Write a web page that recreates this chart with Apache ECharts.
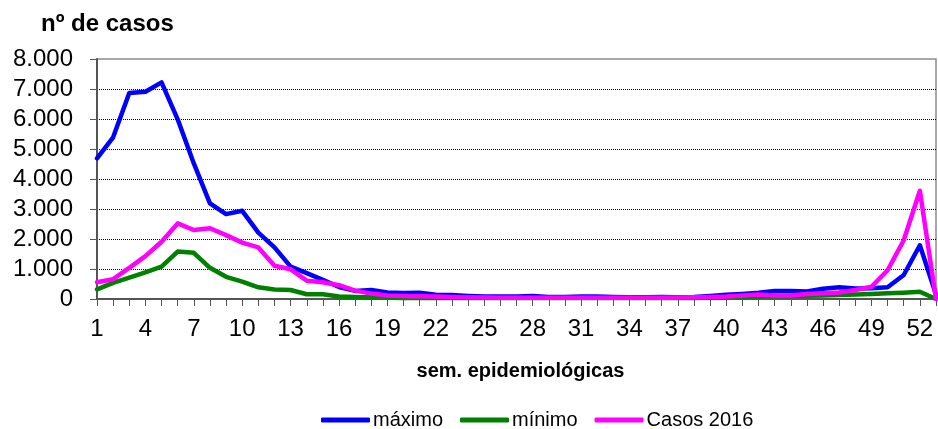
<!DOCTYPE html>
<html>
<head>
<meta charset="utf-8">
<script src="https://cdn.jsdelivr.net/npm/echarts@6/dist/echarts.min.js"></script>
<style>
html,body{margin:0;padding:0;background:#fff;}
#chart{width:938px;height:429px;}
</style>
</head>
<body>
<div id="chart"></div>
<script>
var weeks = [];
for (var w = 1; w <= 53; w++) weeks.push(String(w));

var yTicks = [0, 1000, 2000, 3000, 4000, 5000, 6000, 7000, 8000];

var maximo = [4690, 5390, 6870, 6910, 7220, 5990, 4520, 3190, 2830, 2940,
  2210, 1720, 1080, 860, 640, 400, 270, 300, 220, 200,
  210, 140, 130, 100, 80, 80, 80, 100, 70, 70,
  80, 80, 70, 60, 60, 70, 60, 70, 100, 140,
  170, 210, 270, 270, 250, 340, 390, 350, 360, 390,
  800, 1790, 150];

var minimo = [320, 540, 710, 890, 1080, 1580, 1540, 1040, 740, 580,
  390, 320, 300, 160, 160, 80, 70, 60, 40, 30,
  30, 30, 30, 30, 30, 30, 30, 30, 30, 30,
  30, 30, 30, 30, 30, 30, 30, 30, 40, 50,
  60, 80, 90, 100, 110, 120, 130, 150, 170, 190,
  210, 240, 0];

var casos2016 = [560, 660, 1040, 1430, 1910, 2520, 2300, 2360, 2130, 1880,
  1720, 1110, 990, 610, 560, 460, 280, 180, 120, 100,
  90, 80, 70, 60, 50, 45, 45, 45, 45, 40,
  40, 40, 40, 40, 40, 45, 50, 60, 70, 80,
  120, 150, 120, 120, 170, 190, 220, 300, 410, 960,
  1960, 3610, 0];

var seriesNames = ['máximo', 'mínimo', 'Casos 2016'];
var seriesColors = ['#0000FF', '#008000', '#FF00FF'];
var seriesData = [maximo, minimo, casos2016];

var FONT = 'Arial, "Liberation Sans", sans-serif';

function fmt(v) {
  return String(v).replace(/\B(?=(\d{3})+(?!\d))/g, '.');
}

var chart = echarts.init(document.getElementById('chart'), null, {renderer: 'canvas'});
chart.setOption({
  animation: false,
  backgroundColor: '#ffffff',
  title: {
    text: 'nº de casos',
    left: 36,
    top: 7,
    textStyle: {fontFamily: FONT, fontSize: 24, fontWeight: 'bold', color: '#000'}
  },
  legend: {
    data: seriesNames,
    left: 316,
    top: 405,
    icon: 'roundRect',
    itemWidth: 49,
    itemHeight: 5,
    itemGap: 17,
    textStyle: {fontFamily: FONT, fontSize: 20, color: '#000', padding: [0, 0, 0, -2]}
  },
  grid: {
    left: 97,
    right: 2,
    top: 59,
    bottom: 130,
    show: true,
    borderColor: '#8c8c8c',
    borderWidth: 1.5,
    backgroundColor: 'transparent'
  },
  xAxis: {
    type: 'category',
    data: weeks,
    boundaryGap: false,
    name: 'sem. epidemiológicas',
    nameLocation: 'middle',
    nameGap: 62,
    nameTextStyle: {fontFamily: FONT, fontSize: 20, fontWeight: 'bold', color: '#000', padding: [0, 0, 0, 8]},
    axisLine: {show: true, lineStyle: {color: '#555', width: 2}},
    axisTick: {show: true, interval: 0, length: 7, lineStyle: {color: '#555', width: 1}},
    axisLabel: {
      interval: 2,
      margin: 18,
      fontFamily: FONT,
      fontSize: 24,
      color: '#000'
    },
    splitLine: {show: false}
  },
  yAxis: {
    type: 'value',
    min: yTicks[0],
    max: yTicks[yTicks.length - 1],
    interval: 1000,
    axisLine: {show: true, lineStyle: {color: '#555', width: 2}},
    axisTick: {show: true, length: 7, lineStyle: {color: '#555', width: 1}},
    axisLabel: {
      margin: 24,
      fontFamily: FONT,
      fontSize: 24,
      color: '#000',
      formatter: function (v) { return fmt(v); }
    },
    splitLine: {
      show: true,
      showMaxLine: false,
      showMinLine: false,
      lineStyle: {color: '#000', type: [1, 1], width: 1}
    }
  },
  series: seriesData.map(function (d, i) {
    return {
      name: seriesNames[i],
      type: 'line',
      data: d,
      symbol: 'none',
      showSymbol: false,
      smooth: false,
      color: seriesColors[i],
      lineStyle: {width: 4.5, color: seriesColors[i], join: 'round', cap: 'round'},
      z: 3 + i
    };
  })
});
</script>
</body>
</html>
